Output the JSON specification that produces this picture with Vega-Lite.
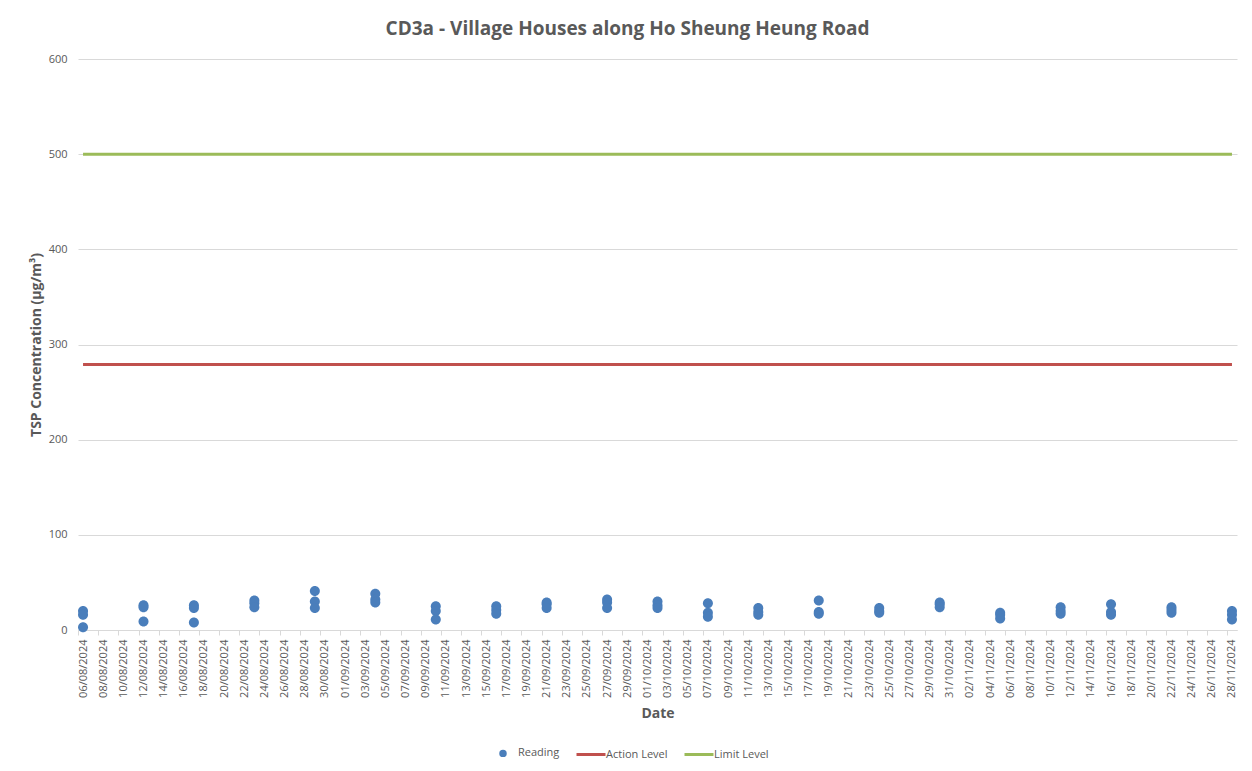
{
  "$schema": "https://vega.github.io/schema/vega-lite/v6.json",
  "autosize": "none",
  "width": 1159,
  "height": 571,
  "padding": {"left": 78, "top": 59, "right": 15, "bottom": 141},
  "background": "white",
  "title": {
    "text": "CD3a - Village Houses along Ho Sheung Heung Road",
    "fontSize": 19,
    "fontWeight": "bold",
    "font": "Open Sans",
    "color": "#595959",
    "offset": 14,
    "dx": -30
  },
  "config": {
    "view": {"stroke": null},
    "axis": {
      "labelFont": "Open Sans",
      "labelFontSize": 11,
      "labelColor": "#595959",
      "titleFont": "Open Sans",
      "titleColor": "#595959",
      "titleFontWeight": "bold",
      "gridColor": "#d9d9d9",
      "domainColor": "#d9d9d9",
      "tickColor": "#d9d9d9"
    },
    "legend": {
      "labelFont": "Open Sans",
      "labelFontSize": 11,
      "labelColor": "#595959"
    }
  },
  "data": {
    "values": [
      {"date": "2024/08/06", "value": 20, "series": "Reading"},
      {"date": "2024/08/06", "value": 16, "series": "Reading"},
      {"date": "2024/08/06", "value": 3, "series": "Reading"},
      {"date": "2024/08/12", "value": 26, "series": "Reading"},
      {"date": "2024/08/12", "value": 24, "series": "Reading"},
      {"date": "2024/08/12", "value": 9, "series": "Reading"},
      {"date": "2024/08/17", "value": 26, "series": "Reading"},
      {"date": "2024/08/17", "value": 23, "series": "Reading"},
      {"date": "2024/08/17", "value": 8, "series": "Reading"},
      {"date": "2024/08/23", "value": 31, "series": "Reading"},
      {"date": "2024/08/23", "value": 28, "series": "Reading"},
      {"date": "2024/08/23", "value": 24, "series": "Reading"},
      {"date": "2024/08/29", "value": 41, "series": "Reading"},
      {"date": "2024/08/29", "value": 30, "series": "Reading"},
      {"date": "2024/08/29", "value": 23, "series": "Reading"},
      {"date": "2024/09/04", "value": 38, "series": "Reading"},
      {"date": "2024/09/04", "value": 32, "series": "Reading"},
      {"date": "2024/09/04", "value": 29, "series": "Reading"},
      {"date": "2024/09/10", "value": 25, "series": "Reading"},
      {"date": "2024/09/10", "value": 20, "series": "Reading"},
      {"date": "2024/09/10", "value": 11, "series": "Reading"},
      {"date": "2024/09/16", "value": 25, "series": "Reading"},
      {"date": "2024/09/16", "value": 21, "series": "Reading"},
      {"date": "2024/09/16", "value": 17, "series": "Reading"},
      {"date": "2024/09/21", "value": 29, "series": "Reading"},
      {"date": "2024/09/21", "value": 27, "series": "Reading"},
      {"date": "2024/09/21", "value": 23, "series": "Reading"},
      {"date": "2024/09/27", "value": 32, "series": "Reading"},
      {"date": "2024/09/27", "value": 29, "series": "Reading"},
      {"date": "2024/09/27", "value": 23, "series": "Reading"},
      {"date": "2024/10/02", "value": 30, "series": "Reading"},
      {"date": "2024/10/02", "value": 26, "series": "Reading"},
      {"date": "2024/10/02", "value": 23, "series": "Reading"},
      {"date": "2024/10/07", "value": 28, "series": "Reading"},
      {"date": "2024/10/07", "value": 18, "series": "Reading"},
      {"date": "2024/10/07", "value": 14, "series": "Reading"},
      {"date": "2024/10/12", "value": 23, "series": "Reading"},
      {"date": "2024/10/12", "value": 19, "series": "Reading"},
      {"date": "2024/10/12", "value": 16, "series": "Reading"},
      {"date": "2024/10/18", "value": 31, "series": "Reading"},
      {"date": "2024/10/18", "value": 19, "series": "Reading"},
      {"date": "2024/10/18", "value": 17, "series": "Reading"},
      {"date": "2024/10/24", "value": 23, "series": "Reading"},
      {"date": "2024/10/24", "value": 20, "series": "Reading"},
      {"date": "2024/10/24", "value": 18, "series": "Reading"},
      {"date": "2024/10/30", "value": 29, "series": "Reading"},
      {"date": "2024/10/30", "value": 27, "series": "Reading"},
      {"date": "2024/10/30", "value": 24, "series": "Reading"},
      {"date": "2024/11/05", "value": 18, "series": "Reading"},
      {"date": "2024/11/05", "value": 16, "series": "Reading"},
      {"date": "2024/11/05", "value": 12, "series": "Reading"},
      {"date": "2024/11/11", "value": 24, "series": "Reading"},
      {"date": "2024/11/11", "value": 20, "series": "Reading"},
      {"date": "2024/11/11", "value": 17, "series": "Reading"},
      {"date": "2024/11/16", "value": 27, "series": "Reading"},
      {"date": "2024/11/16", "value": 19, "series": "Reading"},
      {"date": "2024/11/16", "value": 16, "series": "Reading"},
      {"date": "2024/11/22", "value": 24, "series": "Reading"},
      {"date": "2024/11/22", "value": 21, "series": "Reading"},
      {"date": "2024/11/22", "value": 18, "series": "Reading"},
      {"date": "2024/11/28", "value": 20, "series": "Reading"},
      {"date": "2024/11/28", "value": 16, "series": "Reading"},
      {"date": "2024/11/28", "value": 11, "series": "Reading"},
      {"date": "2024/08/06", "value": 279, "series": "Action Level"},
      {"date": "2024/11/28", "value": 279, "series": "Action Level"},
      {"date": "2024/08/06", "value": 500, "series": "Limit Level"},
      {"date": "2024/11/28", "value": 500, "series": "Limit Level"}
    ]
  },
  "encoding": {
    "x": {
      "field": "date",
      "type": "temporal",
      "scale": {
        "domain": [
          {"year": 2024, "month": 8, "date": 5, "hours": 12},
          {"year": 2024, "month": 11, "date": 28, "hours": 12}
        ]
      },
      "axis": {
        "title": "Date",
        "titleFontSize": 14,
        "titlePadding": 9,
        "format": "%d/%m/%Y",
        "labelAngle": -90,
        "labelPadding": 4,
        "grid": false,
        "tickSize": 5,
        "tickOffset": -5,
        "labelOffset": 5,
        "labelOverlap": false,
        "labelBound": false,
        "labelFlush": false,
        "values": [
          {"year": 2024, "month": 8, "date": 6},
          {"year": 2024, "month": 8, "date": 8},
          {"year": 2024, "month": 8, "date": 10},
          {"year": 2024, "month": 8, "date": 12},
          {"year": 2024, "month": 8, "date": 14},
          {"year": 2024, "month": 8, "date": 16},
          {"year": 2024, "month": 8, "date": 18},
          {"year": 2024, "month": 8, "date": 20},
          {"year": 2024, "month": 8, "date": 22},
          {"year": 2024, "month": 8, "date": 24},
          {"year": 2024, "month": 8, "date": 26},
          {"year": 2024, "month": 8, "date": 28},
          {"year": 2024, "month": 8, "date": 30},
          {"year": 2024, "month": 9, "date": 1},
          {"year": 2024, "month": 9, "date": 3},
          {"year": 2024, "month": 9, "date": 5},
          {"year": 2024, "month": 9, "date": 7},
          {"year": 2024, "month": 9, "date": 9},
          {"year": 2024, "month": 9, "date": 11},
          {"year": 2024, "month": 9, "date": 13},
          {"year": 2024, "month": 9, "date": 15},
          {"year": 2024, "month": 9, "date": 17},
          {"year": 2024, "month": 9, "date": 19},
          {"year": 2024, "month": 9, "date": 21},
          {"year": 2024, "month": 9, "date": 23},
          {"year": 2024, "month": 9, "date": 25},
          {"year": 2024, "month": 9, "date": 27},
          {"year": 2024, "month": 9, "date": 29},
          {"year": 2024, "month": 10, "date": 1},
          {"year": 2024, "month": 10, "date": 3},
          {"year": 2024, "month": 10, "date": 5},
          {"year": 2024, "month": 10, "date": 7},
          {"year": 2024, "month": 10, "date": 9},
          {"year": 2024, "month": 10, "date": 11},
          {"year": 2024, "month": 10, "date": 13},
          {"year": 2024, "month": 10, "date": 15},
          {"year": 2024, "month": 10, "date": 17},
          {"year": 2024, "month": 10, "date": 19},
          {"year": 2024, "month": 10, "date": 21},
          {"year": 2024, "month": 10, "date": 23},
          {"year": 2024, "month": 10, "date": 25},
          {"year": 2024, "month": 10, "date": 27},
          {"year": 2024, "month": 10, "date": 29},
          {"year": 2024, "month": 10, "date": 31},
          {"year": 2024, "month": 11, "date": 2},
          {"year": 2024, "month": 11, "date": 4},
          {"year": 2024, "month": 11, "date": 6},
          {"year": 2024, "month": 11, "date": 8},
          {"year": 2024, "month": 11, "date": 10},
          {"year": 2024, "month": 11, "date": 12},
          {"year": 2024, "month": 11, "date": 14},
          {"year": 2024, "month": 11, "date": 16},
          {"year": 2024, "month": 11, "date": 18},
          {"year": 2024, "month": 11, "date": 20},
          {"year": 2024, "month": 11, "date": 22},
          {"year": 2024, "month": 11, "date": 24},
          {"year": 2024, "month": 11, "date": 26},
          {"year": 2024, "month": 11, "date": 28}
        ]
      }
    },
    "y": {
      "field": "value",
      "type": "quantitative",
      "scale": {"domain": [0, 600], "nice": false},
      "axis": {
        "title": "TSP Concentration (µg/m³)",
        "titleFontSize": 14,
        "titlePadding": 5,
        "labelColor": "#595959",
        "values": [0, 100, 200, 300, 400, 500, 600],
        "domain": false,
        "ticks": false,
        "labelPadding": 11
      }
    },
    "color": {
      "field": "series",
      "type": "nominal",
      "scale": {
        "domain": ["Reading", "Action Level", "Limit Level"],
        "range": ["#4A7EBB", "#C0504D", "#9BBB59"]
      },
      "legend": {
        "title": null,
        "orient": "none",
        "direction": "horizontal",
        "legendX": 409,
        "legendY": 678,
        "columnPadding": 10,
        "labelOffset": -1,
        "symbolSize": 841,
        "symbolStrokeWidth": 3,
        "encode": {
          "symbols": {
            "update": {
              "stroke": {"signal": "scale('color', datum.value)"},
              "size": {"value": 841},
              "strokeWidth": {"value": 3}
            }
          }
        }
      }
    }
  },
  "layer": [
    {
      "transform": [{"filter": "datum.series !== 'Reading'"}],
      "mark": {"type": "line", "strokeWidth": 3},
      "encoding": {}
    },
    {
      "transform": [{"filter": "datum.series === 'Reading'"}],
      "mark": {"type": "point", "filled": true, "opacity": 1, "size": 4160},
      "encoding": {
        "shape": {
          "field": "series",
          "type": "nominal",
          "scale": {
            "domain": ["Reading", "Action Level", "Limit Level"],
            "range": [
              "M0.155,0A0.155,0.155 0 1,1 -0.155,0A0.155,0.155 0 1,1 0.155,0Z",
              "stroke",
              "stroke"
            ]
          },
          "legend": {
            "title": null,
            "orient": "none",
            "direction": "horizontal",
            "legendX": 409,
            "legendY": 678,
            "columnPadding": 10,
            "labelOffset": -1,
            "symbolSize": 841,
            "symbolStrokeWidth": 3
          }
        }
      }
    }
  ]
}
